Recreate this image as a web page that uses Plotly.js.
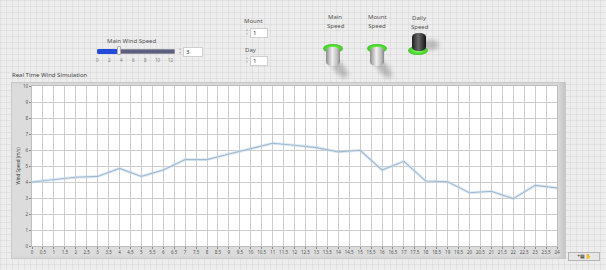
<!DOCTYPE html>
<html>
<head>
<meta charset="utf-8">
<script src="https://cdn.plot.ly/plotly-3.0.1.min.js"></script>
<style>
  html, body { margin:0; padding:0; width:606px; height:270px; overflow:hidden; }
  body {
    position:relative;
    font-family: "Noto Sans", "DejaVu Sans", sans-serif;
    background-color:#ededed;
    background-image:
      linear-gradient(to right, rgba(205,205,205,0.35) 1px, transparent 1px),
      linear-gradient(to bottom, rgba(205,205,205,0.35) 1px, transparent 1px);
    background-size: 6px 6px;
  }
  .abs { position:absolute; }
  .lbl { position:absolute; font-size:6px; color:#555; white-space:nowrap; line-height:1; }
  .numbox { position:absolute; background:#fff; border:1px solid #cfcfcf; font-size:6px; color:#333; line-height:9px; padding-left:2px; box-sizing:border-box; }
  .arrows { position:absolute; font-size:4px; color:#999; line-height:4px; width:4px; text-align:center; }
  .ring { position:absolute; border-radius:50%; background:radial-gradient(ellipse at center, #8dff6a 0%, #4ad62e 55%, #2f9f1c 100%); }
  .cyl { position:absolute; border-radius:6px / 4px; }
  .shadow { position:absolute; background:rgba(110,110,110,0.4); border-radius:50%; filter:blur(2px); }
  #panel { position:absolute; left:11px; top:82px; width:555px; height:177px; background:#dcdcdc; border:1px solid #c8c8c8; box-sizing:border-box; box-shadow: inset -6px 0 6px -3px #c0c0c0; }
  #chart { position:absolute; left:0; top:0; width:606px; height:270px; }
</style>
</head>
<body>
<!-- front panel controls -->
<div class="lbl" style="left:107px; top:38px;">Main Wind Speed</div>
<div class="abs" style="left:97px; top:49px; width:78px; height:5px; background:#5e5f7e; border:1px solid #8a8aa0; box-sizing:border-box; border-radius:1px;"></div>
<div class="abs" style="left:97px; top:49px; width:21px; height:5px; background:#2249d8; border-radius:2px;"></div>
<div class="abs" style="left:117px; top:46px; width:4px; height:9px; background:#f4f4f4; border:1px solid #aaa; box-sizing:border-box; border-radius:1px;"></div>
<div class="lbl" style="left:96px; top:58px; font-size:4.5px; color:#777;">0</div>
<div class="lbl" style="left:108px; top:58px; font-size:4.5px; color:#777;">2</div>
<div class="lbl" style="left:120px; top:58px; font-size:4.5px; color:#777;">4</div>
<div class="lbl" style="left:132px; top:58px; font-size:4.5px; color:#777;">6</div>
<div class="lbl" style="left:144px; top:58px; font-size:4.5px; color:#777;">8</div>
<div class="lbl" style="left:155px; top:58px; font-size:4.5px; color:#777;">10</div>
<div class="lbl" style="left:168px; top:58px; font-size:4.5px; color:#777;">12</div>
<div class="arrows" style="left:178px; top:47px;">▵<br>▿</div>
<div class="numbox" style="left:183px; top:47px; width:20px; height:10px;">3</div>

<div class="lbl" style="left:244px; top:18px;">Mount</div>
<div class="arrows" style="left:245px; top:28px;">▵<br>▿</div>
<div class="numbox" style="left:250px; top:28px; width:18px; height:10px;">1</div>
<div class="lbl" style="left:245px; top:47px;">Day</div>
<div class="arrows" style="left:245px; top:56px;">▵<br>▿</div>
<div class="numbox" style="left:250px; top:56px; width:18px; height:10px;">1</div>

<div class="lbl" style="left:327px; top:13px; text-align:center; width:16px; line-height:9px;">Main<br>Speed</div>
<div class="lbl" style="left:368px; top:13px; text-align:center; width:18px; line-height:9px;">Mount<br>Speed</div>
<div class="lbl" style="left:411px; top:14px; text-align:center; width:16px; line-height:9px;">Daily<br>Speed</div>

<!-- Main Speed button -->
<div class="shadow" style="left:335px; top:58px; width:10px; height:22px; transform:rotate(-40deg);"></div>
<div class="ring" style="left:323px; top:44px; width:20px; height:9px;"></div>
<div class="cyl" style="left:326px; top:47px; width:14px; height:19px; background:linear-gradient(to right,#8c8c8c,#f0f0f0 45%,#bdbdbd 80%,#888);"></div>
<!-- Mount Speed button -->
<div class="shadow" style="left:379px; top:58px; width:10px; height:22px; transform:rotate(-40deg);"></div>
<div class="ring" style="left:367px; top:44px; width:20px; height:9px;"></div>
<div class="cyl" style="left:370px; top:47px; width:14px; height:19px; background:linear-gradient(to right,#8c8c8c,#f0f0f0 45%,#bdbdbd 80%,#888);"></div>
<!-- Daily Speed button -->
<div class="shadow" style="left:422px; top:40px; width:17px; height:10px;"></div>
<div class="ring" style="left:408px; top:46px; width:20px; height:9px;"></div>
<div class="cyl" style="left:412px; top:33px; width:14px; height:18px; background:linear-gradient(to right,#1e1e1e,#6a6a6a 45%,#333 80%,#111);"></div>

<div class="lbl" style="left:12px; top:72px; color:#444;">Real Time Wind Simulation</div>
<div id="panel"></div>
<div class="abs" style="left:568px; top:252px; width:32px; height:9px; background:#e6e6e6; border:1px solid #b5b5b5; box-sizing:border-box; font-size:5px; line-height:7px; text-align:center; color:#333;">+▦✋</div>

<div id="chart"></div>
<script>
// Data
var hours = [0, 1, 2, 3, 4, 5, 6, 7, 8, 9, 10, 11, 12, 13, 14, 15, 16, 17, 18, 19, 20, 21, 22, 23, 24];
var windSpeed = [4.0, 4.15, 4.3, 4.35, 4.85, 4.35, 4.75, 5.4, 5.4, 5.75, 6.1, 6.42, 6.3, 6.15, 5.88, 5.98, 4.75, 5.29, 4.06, 4.02, 3.33, 3.42, 2.96, 3.79, 3.63];
var chartTitle = "Real Time Wind Simulation";
var yTitle = "Wind Speed (m/s)";

var traces = [
  { x: hours, y: windSpeed, type: 'scatter', mode: 'lines',
    line: { color: 'rgba(195,218,238,0.55)', width: 3 }, hoverinfo: 'skip', showlegend: false },
  { x: hours, y: windSpeed, type: 'scatter', mode: 'lines',
    line: { color: '#a3bace', width: 1.1 }, showlegend: false }
];

var layout = {
  width: 606, height: 270,
  margin: { l: 32, r: 49, t: 86, b: 24, pad: 0 },
  paper_bgcolor: 'rgba(0,0,0,0)',
  plot_bgcolor: '#ffffff',
  font: { family: 'Noto Sans, DejaVu Sans, sans-serif', size: 5, color: '#555' },
  showlegend: false,
  xaxis: {
    range: [0, 24], tick0: 0, dtick: 0.5,
    showgrid: true, gridcolor: '#cdcdcd', gridwidth: 1,
    zeroline: false, showline: true, linecolor: '#bdbdbd', mirror: true,
    ticks: 'outside', ticklen: 2, tickcolor: '#888',
    tickfont: { size: 4.5, color: '#555' }
  },
  yaxis: {
    range: [0, 10], tick0: 0, dtick: 1,
    showgrid: true, gridcolor: '#cdcdcd', gridwidth: 1,
    zeroline: false, showline: true, linecolor: '#bdbdbd', mirror: true,
    ticks: 'outside', ticklen: 2, tickcolor: '#888',
    tickfont: { size: 4.5, color: '#555' },
    title: { text: yTitle, font: { size: 4.5, color: '#444' }, standoff: 2 }
  }
};

Plotly.newPlot('chart', traces, layout, { displayModeBar: false, staticPlot: true });
</script>
</body>
</html>
